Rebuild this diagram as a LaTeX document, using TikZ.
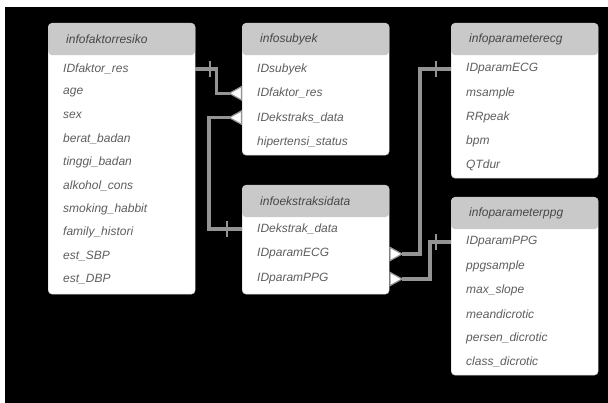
\documentclass[tikz,border=0pt]{standalone}
\usepackage{fontspec}
\setmainfont{Liberation Sans}
\usetikzlibrary{arrows.meta}
\usetikzlibrary{decorations.markings}

\definecolor{hdrgray}{HTML}{C9C9C9}
\definecolor{relgray}{HTML}{949494}
\definecolor{hdrtext}{HTML}{474747}
\definecolor{fldtext}{HTML}{5E5E5E}

\tikzset{
  tbl/.style={anchor=north west, draw=gray!45, line width=0.4pt, fill=white,
    rounded corners=4pt, minimum width=147pt, inner sep=0pt,
    path picture={\fill[hdrgray] (path picture bounding box.north west)
      rectangle ([yshift=-32pt]path picture bounding box.north east);}},
  hdr/.style={anchor=west, inner sep=0pt, text=hdrtext, font=\fontsize{12}{14}\selectfont\itshape},
  fld/.style={anchor=west, inner sep=0pt, text=fldtext, font=\fontsize{12}{14}\selectfont\itshape},
  rel/.style={draw=relgray, line width=3.2pt,
    -{Triangle[reversed, length=14pt, width=15pt, fill=white, line width=1.2pt]},
    postaction={decorate},
    decoration={markings, mark=at position 15pt with
      {\draw[-, relgray, line width=2pt] (0,-8pt) -- (0,8pt);}}}
}

\begin{document}
\begin{tikzpicture}[x=1pt,y=-1pt]
  \useasboundingbox (0,0) rectangle (608,403);
  \fill[white] (0,0) rectangle (608,403);
  \fill[black] (5,7) rectangle (608,403);

  % tabel
  \node[tbl, minimum height=271pt] (faktor) at (48,23) {};
  \node[tbl, minimum height=132pt] (subyek) at (242,23) {};
  \node[tbl, minimum height=155pt] (ecg) at (451,23) {};
  \node[tbl, minimum height=109pt] (ekstrak) at (242,185) {};
  \node[tbl, minimum height=178pt] (ppg) at (451,197) {};

  \node[hdr] (faktor-h) at (66,39) {infofaktorresiko};
  \node[hdr] (subyek-h) at (260,39) {infosubyek};
  \node[hdr] (ecg-h) at (469,39) {infoparameterecg};
  \node[hdr] (ekstrak-h) at (260,201) {infoekstraksidata};
  \node[hdr] (ppg-h) at (469,213) {infoparameterppg};

  \foreach \f [count=\i] in {IDfaktor\_res, age, sex, berat\_badan, tinggi\_badan,
      alkohol\_cons, smoking\_habbit, family\_histori, est\_SBP, est\_DBP}
    \node[fld] (f\i) at (63,{45.6+23.4*\i}) {\f};
  \foreach \f [count=\i] in {IDsubyek, IDfaktor\_res, IDekstraks\_data, hipertensi\_status}
    \node[fld] (s\i) at (257,{44.7+24.3*\i}) {\f};
  \foreach \f [count=\i] in {IDparamECG, msample, RRpeak, bpm, QTdur}
    \node[fld] (c\i) at (466,{45+24*\i}) {\f};
  \foreach \f [count=\i] in {IDekstrak\_data, IDparamECG, IDparamPPG}
    \node[fld] (e\i) at (257,{204+25*\i}) {\f};
  \foreach \f [count=\i] in {IDparamPPG, ppgsample, max\_slope, meandicrotic,
      persen\_dicrotic, class\_dicrotic}
    \node[fld] (p\i) at (466,{218+24*\i}) {\f};

  % relasi
  \draw[rel] (faktor.east |- f1) -- ++(21,0) |- (subyek.west |- s2);
  \draw[rel] (ekstrak.west |- e1) -- ++(-33,0) |- (subyek.west |- s3);
  \draw[rel] (ecg.west |- c1) -- ++(-31,0) |- (ekstrak.east |- e2);
  \draw[rel] (ppg.west |- p1) -- ++(-21,0) |- (ekstrak.east |- e3);
\end{tikzpicture}
\end{document}
